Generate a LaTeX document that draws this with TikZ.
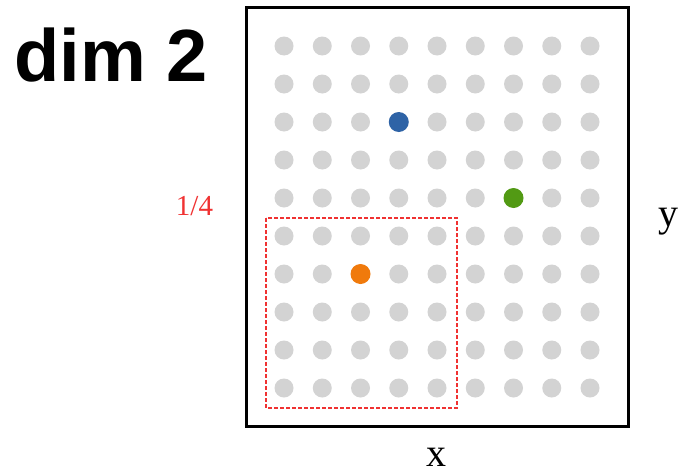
\documentclass[tikz,border=0pt]{standalone}
\usepackage{fontspec}
\setmainfont{Liberation Serif}
\newfontfamily\headfont{Liberation Sans}
\definecolor{dotgray}{RGB}{211,211,211}
\definecolor{dotblue}{RGB}{46,99,166}
\definecolor{dotgreen}{RGB}{82,154,20}
\definecolor{dotorange}{RGB}{240,122,12}
\definecolor{boxred}{RGB}{240,50,50}
\begin{document}
\begin{tikzpicture}[x=1pt, y=-1pt, every node/.style={inner sep=0pt}]
  \useasboundingbox (0,0) rectangle (679,471);
  \draw[line width=3pt] (246.5,7.5) rectangle (628.5,426.5);
  \foreach \i in {0,...,8}
    \foreach \j in {0,...,9}
      \fill[dotgray] (284+38.25*\i,46+38*\j) circle (9.5pt);
  \fill[dotblue] (398.75,122) circle (10pt);
  \fill[dotgreen] (513.5,198) circle (10pt);
  \fill[dotorange] (360.5,274) circle (10pt);
  \draw[boxred, line width=1.2pt, dash pattern=on 4pt off 2pt] (266,218) rectangle (457,408);
  \node[anchor=base, font=\headfont\bfseries\fontsize{74}{74}\selectfont] (title) at (111,81) {dim 2};
  \node[anchor=base, text=boxred, font=\fontsize{29}{29}\selectfont] (frac) at (194.5,215) {1/4};
  \node[anchor=base, font=\fontsize{40}{40}\selectfont] (xlab) at (436,466) {x};
  \node[anchor=base, font=\fontsize{40}{40}\selectfont] (ylab) at (668,226) {y};
\end{tikzpicture}
\end{document}
